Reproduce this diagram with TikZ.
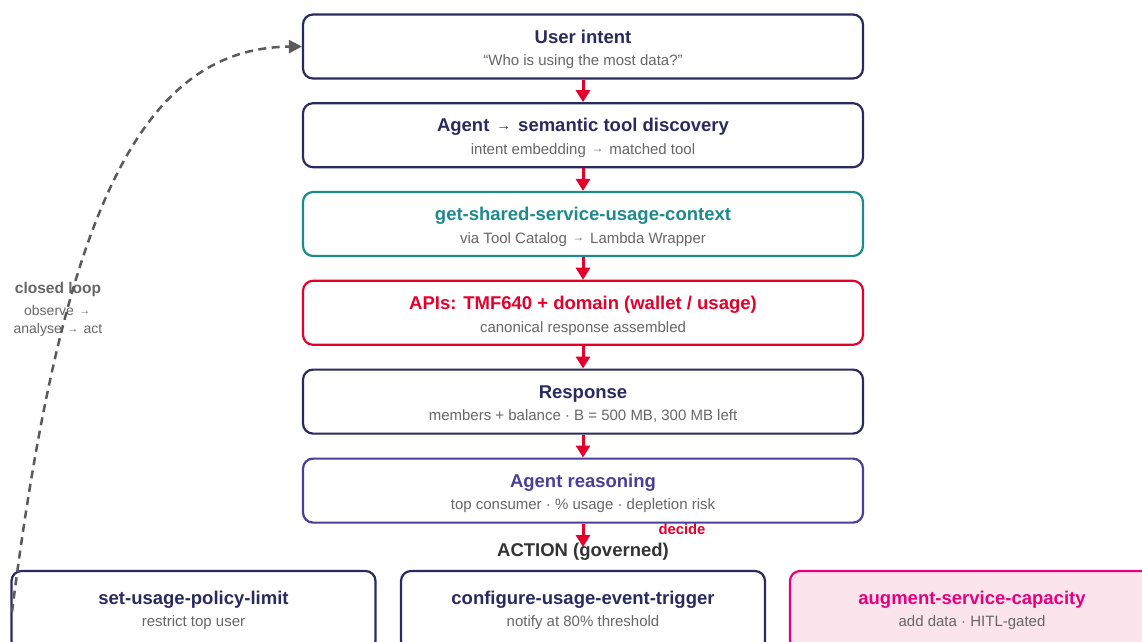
\documentclass[tikz,border=0pt]{standalone}
\usepackage{fontspec}
\setmainfont{Liberation Sans}
\usetikzlibrary{arrows.meta,calc}

\definecolor{navy}{HTML}{2B2A5E}
\definecolor{tealc}{HTML}{1E8A8C}
\definecolor{apired}{HTML}{E4002B}
\definecolor{reason}{HTML}{4A3E98}
\definecolor{magentac}{HTML}{E6007E}
\definecolor{pinkfill}{HTML}{FCE4EC}
\definecolor{subgray}{HTML}{666666}
\definecolor{loopgray}{HTML}{5A5A5A}
\definecolor{actiongray}{HTML}{333333}

% small, centred arrow used inside the labels
\newcommand\toarrow{\makebox[1em]{\raisebox{0.1em}{\scalebox{0.78}{→}}}}

\tikzset{
  stepbox/.style={draw=navy, rounded corners=10pt, line width=2.2pt,
    minimum width=560pt, minimum height=64pt, inner sep=0pt},
  actbox/.style={draw=navy, rounded corners=10pt, line width=2.2pt,
    minimum width=364pt, minimum height=80pt, inner sep=0pt},
  boxtitle/.style={font=\fontsize{18.5}{22}\selectfont\bfseries, text=navy,
    inner sep=0pt, anchor=base},
  boxsub/.style={font=\fontsize{15}{18}\selectfont, text=subgray,
    inner sep=0pt, anchor=base},
  flow/.style={draw=apired, line width=3pt,
    -{Triangle[width=14pt,length=12pt]}},
  loopline/.style={draw=loopgray, line width=2.5pt, dash pattern=on 8pt off 5.5pt,
    -{Triangle[width=13pt,length=13pt]}},
}

\begin{document}
\begin{tikzpicture}[x=1pt,y=-1pt]
\clip (0,0) rectangle (1142,641);
\fill[white] (0,0) rectangle (1142,641);

% main pipeline
\node[stepbox] (b1) at (583,46.5) {};
\node[stepbox] (b2) at (583,135.2) {};
\node[stepbox, draw=tealc] (b3) at (583,224) {};
\node[stepbox, draw=apired] (b4) at (583,312.8) {};
\node[stepbox] (b5) at (583,401.6) {};
\node[stepbox, draw=reason] (b6) at (583,490.6) {};

\node[boxtitle] (t1) at ($(b1.north)+(0,29.8)$) {User intent};
\node[boxsub]   (s1) at ($(b1.north)+(0,52.3)$) {“Who is using the most data?”};
\node[boxtitle] (t2) at ($(b2.north)+(0,29.8)$) {Agent \toarrow\ semantic tool discovery};
\node[boxsub]   (s2) at ($(b2.north)+(0,52.3)$) {intent embedding \toarrow\ matched tool};
\node[boxtitle, text=tealc] (t3) at ($(b3.north)+(0,29.8)$) {get-shared-service-usage-context};
\node[boxsub]   (s3) at ($(b3.north)+(0,52.3)$) {via Tool Catalog \toarrow\ Lambda Wrapper};
\node[boxtitle, text=apired] (t4) at ($(b4.north)+(0,29.8)$) {APIs: TMF640 + domain (wallet / usage)};
\node[boxsub]   (s4) at ($(b4.north)+(0,52.3)$) {canonical response assembled};
\node[boxtitle] (t5) at ($(b5.north)+(0,29.8)$) {Response};
\node[boxsub]   (s5) at ($(b5.north)+(0,52.3)$) {members + balance · B = 500 MB, 300 MB left};
\node[boxtitle, text=reason] (t6) at ($(b6.north)+(0,29.8)$) {Agent reasoning};
\node[boxsub]   (s6) at ($(b6.north)+(0,52.3)$) {top consumer · \% usage · depletion risk};

% governed actions
\node[font=\fontsize{18.5}{22}\selectfont\bfseries, text=actiongray, inner sep=0pt, anchor=base]
  (action) at (583,556.3) {ACTION (governed)};
\node[font=\fontsize{14.8}{18}\selectfont\bfseries, text=apired, inner sep=0pt, anchor=base]
  (decide) at (682,534.5) {decide};

\node[actbox] (a1) at (193.5,611) {};
\node[actbox] (a2) at (583,611) {};
\node[actbox, draw=magentac, fill=pinkfill] (a3) at (972,611) {};

\node[boxtitle] (at1) at ($(a1.north)+(0,34.5)$) {set-usage-policy-limit};
\node[boxsub]   (as1) at ($(a1.north)+(0,57)$) {restrict top user};
\node[boxtitle] (at2) at ($(a2.north)+(0,34.5)$) {configure-usage-event-trigger};
\node[boxsub]   (as2) at ($(a2.north)+(0,57)$) {notify at 80\% threshold};
\node[boxtitle, text=magentac] (at3) at ($(a3.north)+(0,34.5)$) {augment-service-capacity};
\node[boxsub]   (as3) at ($(a3.north)+(0,57)$) {add data · HITL-gated};

% flow arrows
\draw[flow] (b1.south) -- (b2.north);
\draw[flow] (b2.south) -- (b3.north);
\draw[flow] (b3.south) -- (b4.north);
\draw[flow] (b4.south) -- (b5.north);
\draw[flow] (b5.south) -- (b6.north);
\coordinate (actiontop) at (583,547);
\draw[flow] (b6.south) -- (actiontop);

% closed loop feedback
\node[font=\fontsize{15.5}{18}\selectfont\bfseries, text=subgray, inner sep=0pt, anchor=base]
  (looptitle) at (58,293) {closed loop};
\node[font=\fontsize{14}{18}\selectfont, text=subgray, inner sep=0pt, anchor=base]
  (loopa) at (58,315.5) {observe \toarrow};
\node[font=\fontsize{14}{18}\selectfont, text=subgray, inner sep=0pt, anchor=base]
  (loopb) at (58,333.5) {analyse \toarrow\ act};
\coordinate (loopstart) at (12,612);
\draw[loopline] (loopstart) .. controls (62,215) and (140,48) .. (b1.west);
\end{tikzpicture}
\end{document}
